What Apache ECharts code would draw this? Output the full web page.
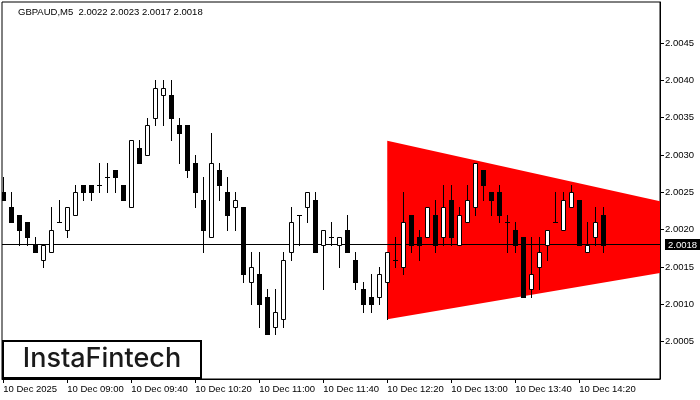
<!DOCTYPE html>
<html><head><meta charset="utf-8">
<script src="https://cdn.jsdelivr.net/npm/echarts@6/dist/echarts.min.js"></script>
<style>html,body{margin:0;padding:0;background:#fff}#c{width:700px;height:400px}</style>
</head><body><div id="c"></div>
<script>
// GBPAUD M5 candles, bars from 10 Dec 08:20 (index 0) to 14:35 (index 75)
const opens = [2.0025,2.0023,2.0022,2.0021,2.0018,2.0016,2.0017,2.0021,2.0020,2.0022,2.0026,2.0026,2.0026,2.0027,2.0028,2.0026,2.0023,2.0031,2.0030,2.0035,2.0038,2.0038,2.0034,2.0034,2.0029,2.0024,2.0019,2.0028,2.0025,2.0023,2.0023,2.0013,2.0014,2.0011,2.0007,2.0008,2.0017,2.0022,2.0023,2.0024,2.0018,2.0019,2.0018,2.0020,2.0016,2.0012,2.0011,2.0011,2.0013,2.0016,2.0015,2.0022,2.0019,2.0019,2.0022,2.0019,2.0024,2.0018,2.0021,2.0023,2.0028,2.0025,2.0025,2.0021,2.0020,2.0019,2.0012,2.0015,2.0018,2.0021,2.0020,2.0023,2.0024,2.0017,2.0019,2.0022];
const closes = [2.0024,2.0021,2.0020,2.0019,2.0017,2.0018,2.0020,2.0021,2.0023,2.0025,2.0025,2.0025,2.0026,2.0027,2.0027,2.0024,2.0032,2.0029,2.0034,2.0039,2.0039,2.0035,2.0033,2.0028,2.0025,2.0020,2.0029,2.0026,2.0022,2.0024,2.0014,2.0015,2.0010,2.0006,2.0009,2.0016,2.0021,2.0022,2.0025,2.0017,2.0020,2.0019,2.0019,2.0017,2.0013,2.0010,2.0010,2.0014,2.0017,2.0016,2.0021,2.0018,2.0018,2.0023,2.0018,2.0023,2.0019,2.0022,2.0024,2.0029,2.0026,2.0024,2.0022,2.0021,2.0018,2.0011,2.0014,2.0017,2.0020,2.0021,2.0024,2.0025,2.0018,2.0018,2.0021,2.0018];
const lows = [2.0024,2.0021,2.0018,2.0018,2.0017,2.0015,2.0017,2.0021,2.0019,2.0022,2.0024,2.0024,2.0025,2.0025,2.0025,2.0024,2.0023,2.0029,2.0030,2.0034,2.0034,2.0032,2.0029,2.0027,2.0023,2.0017,2.0019,2.0024,2.0020,2.0020,2.0013,2.0010,2.0007,2.0006,2.0006,2.0007,2.0016,2.0018,2.0021,2.0017,2.0012,2.0018,2.0015,2.0017,2.0012,2.0009,2.0009,2.0010,2.0008,2.0015,2.0014,2.0017,2.0016,2.0019,2.0017,2.0018,2.0018,2.0018,2.0021,2.0022,2.0024,2.0022,2.0021,2.0017,2.0017,2.0011,2.0011,2.0012,2.0016,2.0021,2.0020,2.0023,2.0018,2.0017,2.0018,2.0017];
const highs = [2.0027,2.0025,2.0022,2.0021,2.0019,2.0018,2.0023,2.0024,2.0023,2.0026,2.0026,2.0026,2.0029,2.0029,2.0028,2.0026,2.0032,2.0032,2.0035,2.0040,2.0040,2.0040,2.0035,2.0034,2.0030,2.0027,2.0033,2.0029,2.0027,2.0025,2.0023,2.0017,2.0017,2.0012,2.0012,2.0017,2.0023,2.0022,2.0025,2.0025,2.0020,2.0021,2.0019,2.0022,2.0017,2.0013,2.0014,2.0015,2.0017,2.0019,2.0025,2.0022,2.0020,2.0023,2.0024,2.0026,2.0026,2.0023,2.0026,2.0029,2.0028,2.0025,2.0026,2.0022,2.0021,2.0019,2.0019,2.0019,2.0020,2.0025,2.0025,2.0026,2.0024,2.0021,2.0023,2.0023];

const tickIndex = [0,8,16,24,32,40,48,56,64,72];
const tickLabels = ['10 Dec 2025','10 Dec 09:00','10 Dec 09:40','10 Dec 10:20','10 Dec 11:00','10 Dec 11:40','10 Dec 12:20','10 Dec 13:00','10 Dec 13:40','10 Dec 14:20'];
const priceTicks = [2.0005,2.0010,2.0015,2.0020,2.0025,2.0030,2.0035,2.0040,2.0045];
const bidPrice = 2.0018;
const titleText = 'GBPAUD,M5  2.0022 2.0023 2.0017 2.0018';
const logoText = 'InstaFintech';

// symmetric triangle pattern: start bar, end (chart edge), upper and lower bounds
const triangleX = [48, 82.09];
const triangleTop = [2.00319, 2.00238];
const triangleBottom = [2.00080, 2.00142];

const X_MIN = -0.16, X_MAX = 82.09;
const FONT = 'Liberation Sans';

const candleData = opens.map((o, i) => [i, o, closes[i], lows[i], highs[i]]);

function renderCandle(params, api) {
  const i = api.value(0), o = api.value(1), c = api.value(2), l = api.value(3), h = api.value(4);
  const pO = api.coord([i, o]), pC = api.coord([i, c]), pL = api.coord([i, l]), pH = api.coord([i, h]);
  const cx = Math.floor(pO[0]);
  const yO = Math.round(pO[1]), yC = Math.round(pC[1]), yL = Math.round(pL[1]), yH = Math.round(pH[1]);
  const top = Math.min(yO, yC), bot = Math.max(yO, yC);
  const children = [{type: 'line', shape: {x1: cx + 0.5, y1: yH, x2: cx + 0.5, y2: yL + 1}, style: {stroke: '#000', lineWidth: 1}}];
  if (top === bot) {
    children.push({type: 'line', shape: {x1: cx - 2, y1: top + 0.5, x2: cx + 3, y2: top + 0.5}, style: {stroke: '#000', lineWidth: 1}});
  } else if (c < o) {
    children.push({type: 'rect', shape: {x: cx - 2, y: top, width: 5, height: bot - top + 1}, style: {fill: '#000'}});
  } else {
    children.push({type: 'rect', shape: {x: cx - 1.5, y: top + 0.5, width: 4, height: bot - top}, style: {fill: '#fff', stroke: '#000', lineWidth: 1}});
  }
  return {type: 'group', children};
}

function renderTriangle(params, api) {
  const a = api.coord([api.value(0), api.value(1)]);
  const b = api.coord([api.value(3), api.value(4)]);
  const c = api.coord([api.value(3), api.value(5)]);
  const d = api.coord([api.value(0), api.value(2)]);
  return {type: 'polygon', shape: {points: [a, b, c, d]}, style: {fill: '#ff0000'}};
}

function renderBid(params, api) {
  const p = api.coord([api.value(0), api.value(1)]);
  const y = Math.floor(p[1]) + 0.5;
  const cs = params.coordSys;
  return {type: 'line', shape: {x1: cs.x, y1: y, x2: cs.x + cs.width, y2: y}, style: {stroke: '#000', lineWidth: 1}};
}

const chart = echarts.init(document.getElementById('c'), null, {renderer: 'canvas'});
chart.setOption({
  animation: false,
  backgroundColor: '#fff',
  textStyle: {fontFamily: FONT},
  grid: {left: 2, top: 2, right: 40, bottom: 21, show: true, borderColor: '#000', borderWidth: 1, backgroundColor: 'transparent', containLabel: false, outerBoundsMode: 'none'},
  xAxis: {
    type: 'value', min: X_MIN, max: X_MAX,
    splitLine: {show: false},
    axisLine: {show: true, onZero: false, lineStyle: {color: '#000', width: 1}},
    axisTick: {show: true, customValues: tickIndex, length: 4, lineStyle: {color: '#000'}},
    axisLabel: {
      customValues: tickIndex, color: '#000', fontSize: 9.5, fontFamily: FONT, align: 'left', margin: 5,
      formatter: v => tickLabels[tickIndex.indexOf(Math.round(v))] || ''
    }
  },
  yAxis: {
    type: 'value', position: 'right', min: 2.0000, max: 2.00505, scale: true,
    splitLine: {show: false},
    axisLine: {show: true, onZero: false, lineStyle: {color: '#000', width: 1}},
    axisTick: {show: true, customValues: priceTicks, length: 4, lineStyle: {color: '#000'}},
    axisLabel: {
      customValues: priceTicks.concat([bidPrice]), color: '#000', fontSize: 9.5, fontFamily: FONT, margin: 5,
      formatter: v => Math.abs(v - bidPrice) < 1e-9 ? '{tag|' + v.toFixed(4) + '}' : v.toFixed(4),
      rich: {tag: {backgroundColor: '#000', color: '#fff', fontSize: 9.5, fontFamily: FONT, padding: [1, 8, 0, 3]}}
    }
  },
  series: [
    {type: 'custom', name: 'triangle', z: 1, clip: true, renderItem: renderTriangle,
      data: [[triangleX[0], triangleTop[0], triangleBottom[0], triangleX[1], triangleTop[1], triangleBottom[1]]],
      encode: {x: [0, 3], y: [1, 2, 4, 5]}},
    {type: 'custom', name: 'bid', z: 2, renderItem: renderBid, data: [[0, bidPrice]], encode: {x: 0, y: 1}},
    {type: 'custom', name: 'candles', z: 3, clip: true, renderItem: renderCandle, data: candleData,
      encode: {x: 0, y: [1, 2, 3, 4]}}
  ],
  graphic: [
    {type: 'text', z: 10, x: 18, y: 12, style: {text: titleText, fill: '#000', font: '9.5px "Liberation Sans"', verticalAlign: 'middle'}},
    {type: 'group', z: 20, children: [
      {type: 'rect', shape: {x: 3, y: 341, width: 198, height: 37}, style: {fill: '#fff', stroke: '#000', lineWidth: 2}},
      {type: 'text', x: 102, y: 359, style: {text: logoText, fill: '#1a1a1a', font: '500 27px Inter', align: 'center', verticalAlign: 'middle'}}
    ]}
  ]
});
</script>
</body></html>
